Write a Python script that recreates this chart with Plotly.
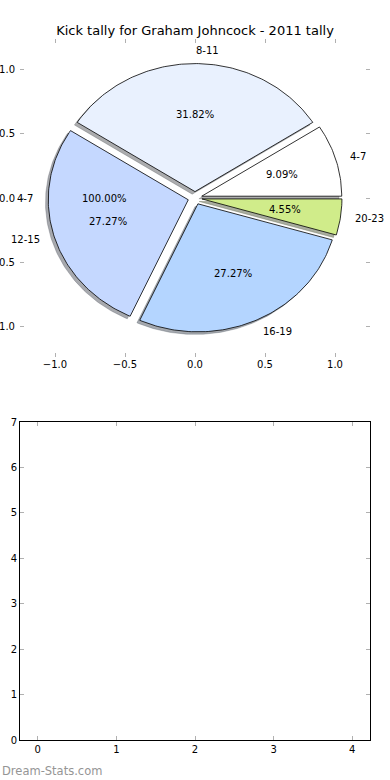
import numpy as np
import plotly.graph_objects as go

# ---------------- data ----------------
labels = ["4-7", "8-11", "12-15", "16-19", "20-23"]
values = [2, 7, 6, 6, 1]
colors = ["#ffffff", "#e9f1fe", "#c5d8ff", "#b4d5ff", "#d0ec8a"]
extra_labels = ["4-7"]
extra_values = [1]
title_text = "Kick tally for Graham Johncock - 2011 tally"
watermark = "Dream-Stats.com"
pie_ticks = [-1.0, -0.5, 0.0, 0.5, 1.0]
bottom_xticks = [0, 1, 2, 3, 4]
bottom_yticks = [0, 1, 2, 3, 4, 5, 6, 7]

# ---------------- style ----------------
EXPLODE = 0.05
SHADOW_DX, SHADOW_DY = -0.02, -0.02
LABEL_DIST = 1.1
PCT_DIST = 0.6
FONT = "DejaVu Sans"
TICKC = "#b0b0b0"


def wedge_angles(vals):
    total = float(sum(vals))
    out, t = [], 0.0
    for v in vals:
        frac = v / total
        out.append((t, t + 360.0 * frac, frac))
        t += 360.0 * frac
    return out


def wedge_poly(t1, t2, cx, cy):
    n = max(4, int(abs(t2 - t1) / 1.0) + 2)
    th = np.radians(np.linspace(t1, t2, n))
    xs = np.concatenate([[cx], cx + np.cos(th), [cx]])
    ys = np.concatenate([[cy], cy + np.sin(th), [cy]])
    return xs, ys


def shadow_color(hexc):
    h = hexc.lstrip("#")
    r, g, b = (int(h[i:i + 2], 16) for i in (0, 2, 4))
    return "rgba(%d,%d,%d,0.45)" % (r * 0.3, g * 0.3, b * 0.3)


fig = go.Figure()
annotations = []

main = wedge_angles(values)
# shadows first (beneath all wedges)
for (t1, t2, frac), col in zip(main, colors):
    tm = np.radians((t1 + t2) / 2)
    cx, cy = EXPLODE * np.cos(tm), EXPLODE * np.sin(tm)
    xs, ys = wedge_poly(t1, t2, cx + SHADOW_DX, cy + SHADOW_DY)
    sc = shadow_color(col)
    fig.add_trace(go.Scatter(x=xs, y=ys, mode="lines", fill="toself",
                             fillcolor=sc, line=dict(color=sc, width=0.6),
                             hoverinfo="skip", showlegend=False,
                             xaxis="x", yaxis="y"))

for (t1, t2, frac), col, lab in zip(main, colors, labels):
    tm = np.radians((t1 + t2) / 2)
    cx, cy = EXPLODE * np.cos(tm), EXPLODE * np.sin(tm)
    xs, ys = wedge_poly(t1, t2, cx, cy)
    fig.add_trace(go.Scatter(x=xs, y=ys, mode="lines", fill="toself",
                             fillcolor=col, line=dict(color="black", width=0.8),
                             hoverinfo="skip", showlegend=False,
                             xaxis="x", yaxis="y"))
    lx = cx + LABEL_DIST * np.cos(tm)
    ly = cy + LABEL_DIST * np.sin(tm)
    annotations.append(dict(x=lx, y=ly, xref="x", yref="y", text=lab,
                            showarrow=False, xanchor="left" if lx > 0 else "right",
                            yanchor="middle", borderpad=0,
                            font=dict(family=FONT, size=10, color="black")))
    px = cx + PCT_DIST * np.cos(tm)
    py = cy + PCT_DIST * np.sin(tm)
    annotations.append(dict(x=px, y=py, xref="x", yref="y",
                            text="%.2f%%" % (frac * 100), showarrow=False,
                            xanchor="center", yanchor="middle", borderpad=0,
                            font=dict(family=FONT, size=10, color="black")))

# second (overlapping) single-slice pie: only its texts are visible
for (t1, t2, frac), lab in zip(wedge_angles(extra_values), extra_labels):
    tm = np.radians((t1 + t2) / 2)
    cx, cy = EXPLODE * np.cos(tm), EXPLODE * np.sin(tm)
    lx = cx + LABEL_DIST * np.cos(tm)
    ly = cy + LABEL_DIST * np.sin(tm)
    annotations.append(dict(x=lx, y=ly, xref="x", yref="y", text=lab,
                            showarrow=False, xanchor="left" if lx > 1e-9 else "right",
                            yanchor="middle", borderpad=0,
                            font=dict(family=FONT, size=10, color="black")))
    px = cx + PCT_DIST * np.cos(tm)
    py = cy + PCT_DIST * np.sin(tm)
    annotations.append(dict(x=px, y=py, xref="x", yref="y",
                            text="%.2f%%" % (frac * 100), showarrow=False,
                            xanchor="center", yanchor="middle", borderpad=0,
                            font=dict(family=FONT, size=10, color="black")))

# empty lower axes
fig.add_trace(go.Scatter(x=[], y=[], mode="markers", showlegend=False,
                         xaxis="x2", yaxis="y2"))

annotations.append(dict(x=-20 / 350, y=(740 - 771) / 701, xref="paper", yref="paper",
                        text=watermark, showarrow=False, xanchor="left",
                        yanchor="middle",
                        font=dict(family=FONT, size=11.5, color="#959595")))

tickfont = dict(family=FONT, size=10, color="black")
common = dict(showgrid=False, zeroline=False, ticks="inside", ticklen=4,
              tickwidth=1, tickcolor=TICKC, tickfont=tickfont, automargin=False)

fig.update_layout(
    width=390, height=780,
    margin=dict(l=20, r=20, t=39, b=40, autoexpand=False),
    paper_bgcolor="white", plot_bgcolor="white",
    showlegend=False,
    title=dict(text=title_text, x=0.5, xref="paper", y=1 - 30 / 780,
               yanchor="middle", xanchor="center", automargin=False,
               font=dict(family=FONT, size=13, color="black")),
    xaxis=dict(domain=[0, 1], range=[-1.25, 1.25], anchor="y",
               tickvals=pie_ticks, tickformat=".1f", showline=False,
               mirror="ticks", **common),
    yaxis=dict(domain=[(740 - 357) / 701, 1], range=[-1.242, 1.242], anchor="x",
               tickvals=pie_ticks, tickformat=".1f", showline=False,
               mirror="ticks", ticklabelstandoff=4, **common),
    xaxis2=dict(domain=[0, 1], range=[-0.225, 4.225], anchor="y2",
                tickvals=bottom_xticks, showline=True, linecolor="black",
                linewidth=1, mirror="ticks", **common),
    yaxis2=dict(domain=[0, (740 - 422) / 701], range=[0, 7], anchor="x2",
                tickvals=bottom_yticks, showline=True, linecolor="black",
                linewidth=1, mirror="ticks", **common),
    annotations=annotations,
)

fig.write_html("out.html",
               config={"displayModeBar": False, "staticPlot": True},
               post_script="document.body.style.margin='0';document.body.style.padding='0';")
